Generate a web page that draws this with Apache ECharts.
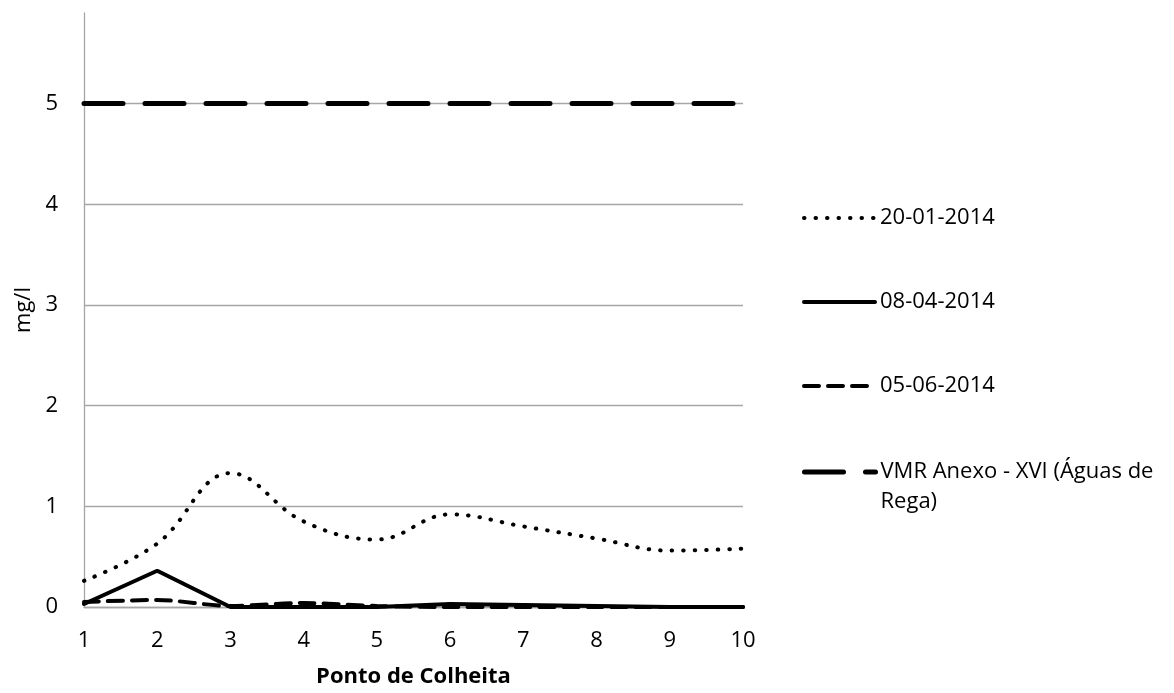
<!DOCTYPE html>
<html>
<head>
<meta charset="utf-8">
<script src="https://cdn.jsdelivr.net/npm/echarts@6/dist/echarts.min.js"></script>
<style>
  html, body { margin: 0; padding: 0; background: #fff; }
  #chart { width: 1174px; height: 693px; }
</style>
</head>
<body>
<div id="chart"></div>
<script>
// pontos de colheita
const pontos = ['1', '2', '3', '4', '5', '6', '7', '8', '9', '10'];

// valores (mg/l)
const jan2014 = [0.26, 0.63, 1.33, 0.85, 0.67, 0.92, 0.80, 0.68, 0.56, 0.58];
const abr2014 = [0.03, 0.36, 0.00, 0.00, 0.00, 0.03, 0.02, 0.01, 0.00, 0.00];
const jun2014 = [0.05, 0.07, 0.01, 0.04, 0.01, 0.00, 0.00, 0.00, 0.00, 0.00];
const vmr = [5, 5, 5, 5, 5, 5, 5, 5, 5, 5];

const nomes = ['20-01-2014', '08-04-2014', '05-06-2014', 'VMR Anexo - XVI (Águas de Rega)'];

const fonte = 'Open Sans, Noto Sans, sans-serif';
const cinza = '#a6a6a6';

// estilo comum das duas legendas
const legendaBase = {
  orient: 'vertical',
  left: 797,
  itemWidth: 71,
  itemHeight: 30,
  itemGap: 54,
  itemStyle: { opacity: 0 },
  lineStyle: { width: 'inherit', type: 'inherit', cap: 'inherit' },
  textStyle: { fontFamily: fonte, fontSize: 22, lineHeight: 30, color: '#000' }
};

const chart = echarts.init(document.getElementById('chart'));

chart.setOption({
  animation: false,
  backgroundColor: '#fff',
  grid: { left: 84, right: 431, top: 13, bottom: 85, containLabel: false },
  legend: [
    Object.assign({}, legendaBase, {
      top: 198,
      data: nomes.slice(0, 3)
    }),
    // ultima entrada em duas linhas, com a primeira linha ao nivel do icone
    // (linha vazia em cima para o bloco centrado cair na primeira linha)
    Object.assign({}, legendaBase, {
      top: 422,
      data: [nomes[3]],
      formatter: () => '\nVMR Anexo - XVI (Águas de\nRega)'
    })
  ],
  xAxis: {
    type: 'category',
    data: pontos,
    boundaryGap: false,
    name: 'Ponto de Colheita',
    nameLocation: 'middle',
    nameGap: 59,
    nameTextStyle: { fontFamily: fonte, fontSize: 22, fontWeight: 'bold', color: '#000' },
    axisLine: { lineStyle: { color: cinza, width: 1.3 } },
    axisTick: { show: false },
    axisLabel: { fontFamily: fonte, fontSize: 22, color: '#000', margin: 23 },
    splitLine: { show: false }
  },
  yAxis: {
    type: 'value',
    min: 0,
    max: 5.9,
    interval: 1,
    name: 'mg/l',
    nameLocation: 'middle',
    nameGap: 48,
    nameTextStyle: { fontFamily: fonte, fontSize: 22, color: '#000' },
    axisLine: { show: true, lineStyle: { color: cinza, width: 1.3 } },
    axisTick: { show: false },
    axisLabel: {
      fontFamily: fonte, fontSize: 22, color: '#000', margin: 26,
      showMaxLabel: false,
      formatter: (v) => Number.isInteger(v) ? String(v) : ''
    },
    splitLine: {
      lineStyle: { color: [cinza, cinza, cinza, cinza, cinza, cinza, 'rgba(0,0,0,0)'], width: 1.3 }
    }
  },
  series: [
    {
      name: nomes[0], type: 'line', data: jan2014, smooth: 0.4,
      symbol: 'none', color: '#000',
      lineStyle: { color: '#000', width: 4, type: [0.5, 11], cap: 'round' },
      z: 3
    },
    {
      name: nomes[1], type: 'line', data: abr2014,
      symbol: 'none', color: '#000',
      lineStyle: { color: '#000', width: 4, type: 'solid', cap: 'round' },
      z: 4
    },
    {
      name: nomes[2], type: 'line', data: jun2014, smooth: 0.3,
      symbol: 'none', color: '#000',
      lineStyle: { color: '#000', width: 4, type: [15, 9], cap: 'round' },
      z: 3
    },
    {
      name: nomes[3], type: 'line', data: vmr,
      symbol: 'none', color: '#000',
      lineStyle: { color: '#000', width: 5, type: [39, 22], cap: 'round' },
      z: 5
    }
  ]
});
</script>
</body>
</html>
